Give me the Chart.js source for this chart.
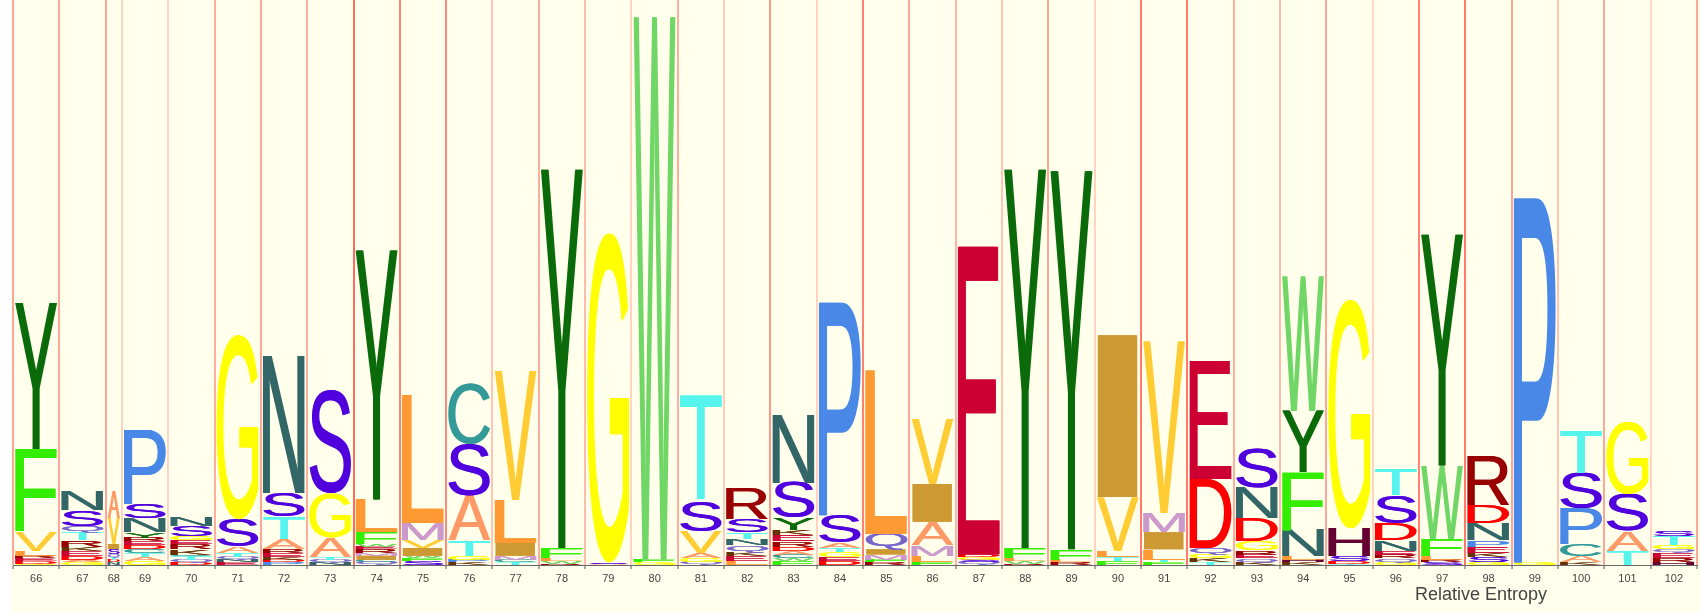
<!DOCTYPE html>
<html>
<head>
<meta charset="utf-8">
<script src="https://cdn.jsdelivr.net/npm/chart.js@4/dist/chart.umd.min.js"></script>
<style>
  html, body { margin: 0; padding: 0; background: #fff; }
</style>
</head>
<body>
<canvas id="chart" width="1700" height="612"></canvas>
<script>
// HMM logo, match states 66..102
const positions = [66, 67, 68, 69, 70, 71, 72, 73, 74, 75, 76, 77, 78, 79, 80, 81, 82, 83, 84,
  85, 86, 87, 88, 89, 90, 91, 92, 93, 94, 95, 96, 97, 98, 99, 100, 101, 102];

// relative column width (state occupancy), 68 is a mostly-empty state
const colWidth = [1, 1, 0.35, 1, 1, 1, 1, 1, 1, 1, 1, 1, 1, 1, 1, 1, 1, 1, 1,
  1, 1, 1, 1, 1, 1, 1, 1, 1, 1, 1, 1, 1, 1, 1, 1, 1, 1];

// insert probability at each column boundary (drives the red divider strength)
const insertProb = [0.6, 0.6, 0.6, 0.3, 0.3, 0.55, 0.6, 0.55, 1, 0.85, 0.8, 0.4, 0.55, 0.45,
  0.3, 0.55, 0.35, 0.7, 0.3, 0.85, 0.6, 0.5, 0.4, 0.6, 0.3, 0.9, 0.9, 0.55, 0.45, 0.6,
  0.3, 0.85, 0.9, 0.6, 0.4, 0.6, 0.3, 0.6];

// residue stacks, bottom to top, residue + height in bits
const stacks = [
  'G.01 D.02 E.02 R.02 L.04 V.15 F.63 Y1.12',
  'G.02 A.02 D.03 E.04 K.03 R.05 T.06 Q.05 S.12 N.15',
  'N.02 D.02 T.02 Q.02 S.04 I.04 V.20 A.20',
  'G.03 A.03 T.03 C.03 D.03 E.03 R.03 Y.04 N.11 S.11 P.57',
  'D.02 Q.02 T.03 C.01 K.04 R.04 E.03 G.03 S.08 N.07',
  'E.02 N.02 Q.02 T.03 A.05 S.21 G1.41',
  'P.02 D.02 K.02 E.03 R.03 A.08 T.17 S.18 N1.05',
  'N.02 Q.02 T.02 A.15 G.34 S.80',
  'Q.02 C.02 I.03 M.02 R.03 E.02 W.02 F.09 L.25 Y1.91',
  'S.03 F.02 W.02 I.06 V.06 M.13 L.98',
  'K.02 P.02 G.03 T.12 A.34 S.40 C.46',
  'T.02 C.02 M.03 I.10 L.33 V.99',
  'R.01 W.02 L.02 F.08 Y2.90',
  'A.01 S.01 G2.52',
  'G.02 F.02 W4.16',
  'Q.02 G.03 A.04 V.17 S.23 T.80',
  'L.03 E.04 K.03 Q.05 N.05 T.05 S.10 R.24',
  'F.03 W.02 C.03 A.03 D.03 R.04 E.05 K.04 Y.09 S.27 N.52',
  'D.03 E.03 G.04 T.03 A.04 S.21 P1.63',
  'R.02 F.02 M.04 I.04 Q.12 L1.25',
  'F.02 L.05 M.08 A.18 I.29 V.50',
  'Q.02 S.02 G.02 D.02 E2.36',
  'R.01 W.02 L.02 F.08 Y2.90',
  'R.02 L.02 F.08 Y2.90',
  'F.03 T.03 L.05 V.41 I1.24',
  'F.02 T.02 L.08 I.13 M.15 V1.31',
  'T.02 K.03 G.03 Q.05 D.53 E.90',
  'K.02 Q.03 E.03 R.03 G.07 D.18 N.23 S.31',
  'K.02 H.02 L.03 N.20 F.44 Y.47 W1.03',
  'T.01 D.02 S.04 H.21 G1.75',
  'G.02 Q.03 R.03 E.03 N.08 D.13 S.21 T.20',
  'S.02 R.02 L.03 F.13 W.56 Y1.77',
  'G.02 S.04 K.03 E.05 P.05 N.13 D.14 R.38',
  'G.02 P2.79',
  'K.02 A.05 C.09 P.27 S.27 T.33',
  'T.11 A.15 S.28 G.55',
  'H.02 R.03 E.04 Q.03 G.03 T.07 S.04'
];

const residueColors = {
  A: '#ff9966', C: '#339999', D: '#ff0000', E: '#cc0033', F: '#33ee00',
  G: '#ffff00', H: '#660033', I: '#cc9933', K: '#663300', L: '#ff9933',
  M: '#cc99cc', N: '#336666', P: '#4a88e8', Q: '#7766cc', R: '#990000',
  S: '#5000dd', T: '#55f5ee', V: '#ffcc33', W: '#70d666', Y: '#0b6b0b'
};

const FONT = 'Liberation Sans, Arial, sans-serif';

const columns = stacks.map(s => s.split(' ').map(t => [t[0], parseFloat(t.slice(1))]));

// column boundaries in x units
const bounds = [0];
colWidth.forEach(w => bounds.push(bounds[bounds.length - 1] + w));
const centers = positions.map((p, i) => (bounds[i] + bounds[i + 1]) / 2);

// ticks: boundary, centre, boundary, centre, ...
const tickVals = [];
bounds.forEach((b, i) => {
  tickVals.push(b);
  if (i < centers.length) tickVals.push(centers[i]);
});

function drawGlyph(ctx, ch, x, y, w, h) {
  if (h < 0.6 || w <= 1) return;
  ctx.save();
  ctx.font = '100px ' + FONT;
  ctx.textAlign = 'left';
  ctx.textBaseline = 'alphabetic';
  const m = ctx.measureText(ch);
  const gw = m.actualBoundingBoxLeft + m.actualBoundingBoxRight;
  const gh = m.actualBoundingBoxAscent + m.actualBoundingBoxDescent;
  ctx.fillStyle = residueColors[ch] || '#888';
  // drawn twice, 1px apart, to get the heavier strokes of the original
  for (let dx = 0; dx <= 1; dx++) {
    ctx.setTransform(1, 0, 0, 1, 0, 0);
    ctx.translate(x + dx, y);
    ctx.scale((w - 1) / gw, h / gh);
    ctx.fillText(ch, m.actualBoundingBoxLeft, m.actualBoundingBoxAscent);
  }
  ctx.restore();
}

const logoPlugin = {
  id: 'logo',
  beforeDraw(chart) {
    const ctx = chart.ctx;
    ctx.save();
    ctx.fillStyle = '#ffffec';
    ctx.fillRect(11, 0, chart.width - 11, chart.height);
    ctx.restore();
  },
  afterDatasetsDraw(chart) {
    const { ctx, scales: { x, y } } = chart;
    columns.forEach((col, i) => {
      const left = x.getPixelForValue(bounds[i]) + 2;
      const right = x.getPixelForValue(bounds[i + 1]) - 2;
      let base = 0;
      col.forEach(([res, h]) => {
        const yb = y.getPixelForValue(base);
        const yt = y.getPixelForValue(base + h);
        drawGlyph(ctx, res, left, yt, right - left, yb - yt);
        base += h;
      });
    });
  },
  afterDraw(chart) {
    const { ctx, scales: { x } } = chart;
    ctx.save();
    ctx.font = '18px ' + FONT;
    ctx.fillStyle = '#444';
    ctx.textAlign = 'center';
    ctx.textBaseline = 'middle';
    ctx.fillText('Relative Entropy', x.right - 216, x.bottom - 17);
    ctx.restore();
  }
};

const ctx = document.getElementById('chart').getContext('2d');
new Chart(ctx, {
  type: 'scatter',
  data: {
    datasets: [{
      data: centers.map((c, i) => ({ x: c, y: columns[i].reduce((a, r) => a + r[1], 0) })),
      pointRadius: 0,
      showLine: false
    }]
  },
  options: {
    responsive: false,
    animation: false,
    devicePixelRatio: 1,
    layout: { padding: { left: 13, right: 2, top: 0, bottom: 0 } },
    plugins: { legend: { display: false }, tooltip: { enabled: false } },
    scales: {
      x: {
        type: 'linear',
        min: 0,
        max: bounds[bounds.length - 1],
        afterBuildTicks: s => { s.ticks = tickVals.map(v => ({ value: v })); },
        afterFit: s => { s.height = 47; },
        ticks: {
          autoSkip: false,
          maxRotation: 0,
          padding: 3,
          color: '#444',
          font: { family: FONT, size: 11 },
          callback: (v, i) => (i % 2 === 1 ? String(positions[(i - 1) / 2]) : '')
        },
        grid: {
          drawOnChartArea: true,
          lineWidth: c => (c.index % 2 === 0 ? 2 : 0),
          color: c => (c.index % 2 === 0
            ? 'rgba(255, 70, 60, ' + (0.8 * insertProb[c.index / 2]).toFixed(2) + ')'
            : 'rgba(0,0,0,0)'),
          tickColor: c => (c.index % 2 === 0 ? '#555' : 'rgba(0,0,0,0)'),
          tickWidth: 1,
          tickLength: 4
        },
        border: { display: true, color: '#666', width: 1 }
      },
      y: {
        display: false,
        min: 0,
        max: 4.32
      }
    }
  },
  plugins: [logoPlugin]
});
</script>
</body>
</html>
